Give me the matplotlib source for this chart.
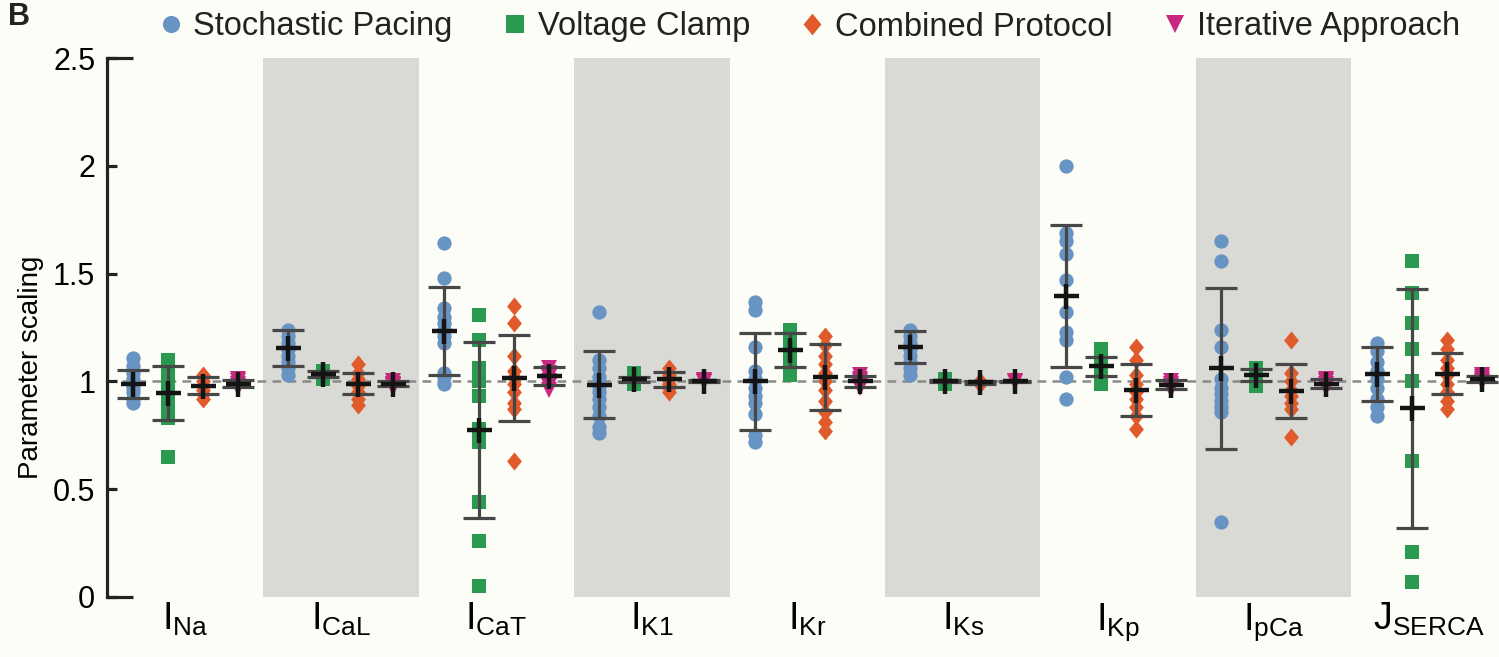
import matplotlib
matplotlib.use('Agg')
from matplotlib import pyplot as plt
from matplotlib.ticker import FixedLocator
import numpy as np

currents = ['I_{Na}', 'I_{CaL}', 'I_{CaT}', 'I_{K1}', 'I_{Kr}', 'I_{Ks}', 'I_{Kp}', 'I_{pCa}', 'J_{SERCA}']
methods = ['Stochastic Pacing', 'Voltage Clamp', 'Combined Protocol', 'Iterative Approach']

# individual trials, one list per current
sp_points = [
    [1.11, 1.07, 1.04, 1.01, 0.99, 0.97, 0.95, 0.92, 0.90],
    [1.24, 1.21, 1.18, 1.15, 1.12, 1.09, 1.06, 1.03],
    [1.64, 1.48, 1.34, 1.30, 1.27, 1.24, 1.21, 1.18, 1.04, 1.02, 0.99],
    [1.32, 1.10, 1.06, 1.02, 0.98, 0.95, 0.92, 0.88, 0.84, 0.79, 0.76],
    [1.37, 1.33, 1.16, 1.05, 1.01, 0.97, 0.93, 0.90, 0.85, 0.75, 0.72],
    [1.24, 1.21, 1.18, 1.15, 1.12, 1.09, 1.06, 1.03],
    [2.00, 1.69, 1.65, 1.59, 1.47, 1.32, 1.23, 1.19, 1.02, 0.92],
    [1.65, 1.56, 1.24, 1.16, 1.01, 0.97, 0.94, 0.91, 0.88, 0.86, 0.35],
    [1.18, 1.14, 1.09, 1.05, 1.01, 0.97, 0.92, 0.88, 0.84],
]
vc_points = [
    [1.10, 1.06, 1.02, 0.98, 0.94, 0.90, 0.86, 0.83, 0.65],
    [1.05, 1.04, 1.03, 1.02, 1.01],
    [1.31, 1.19, 1.06, 1.00, 0.93, 0.78, 0.72, 0.44, 0.26, 0.05],
    [1.04, 1.02, 1.01, 1.00, 0.99],
    [1.24, 1.21, 1.18, 1.15, 1.12, 1.08, 1.03],
    [1.01, 1.00, 0.995, 0.99],
    [1.15, 1.11, 1.08, 1.05, 1.02, 0.99],
    [1.06, 1.04, 1.02, 1.00, 0.98],
    [1.56, 1.41, 1.27, 1.15, 1.00, 0.63, 0.21, 0.07],
]
cp_points = [
    [1.03, 1.00, 0.98, 0.96, 0.94, 0.92],
    [1.08, 1.04, 1.01, 0.98, 0.95, 0.92, 0.89],
    [1.35, 1.27, 1.12, 1.05, 1.02, 0.99, 0.95, 0.90, 0.87, 0.63],
    [1.06, 1.03, 1.01, 0.99, 0.97, 0.95],
    [1.21, 1.17, 1.12, 1.08, 1.04, 1.00, 0.96, 0.91, 0.86, 0.81, 0.77],
    [1.00, 0.995, 0.99],
    [1.16, 1.10, 1.03, 0.99, 0.95, 0.92, 0.88, 0.84, 0.78],
    [1.19, 1.04, 1.00, 0.96, 0.93, 0.90, 0.87, 0.74],
    [1.19, 1.15, 1.10, 1.06, 1.03, 0.99, 0.95, 0.91, 0.87],
]
ia_points = [
    [1.01, 1.00, 0.99, 0.98, 0.97],
    [1.00, 0.99, 0.985, 0.98, 0.97],
    [1.06, 1.04, 1.02, 1.00, 0.98, 0.96],
    [1.005, 1.00, 0.995],
    [1.03, 1.01, 1.00, 0.98, 0.97],
    [1.00, 0.995],
    [1.00, 0.99, 0.98, 0.97, 0.96],
    [1.01, 1.00, 0.99, 0.98, 0.97],
    [1.03, 1.02, 1.01, 1.00, 0.995],
]

# mean and standard deviation for each current
sp_mean = [0.99, 1.155, 1.235, 0.985, 1.00, 1.16, 1.395, 1.06, 1.035]
sp_sd = [0.065, 0.085, 0.205, 0.155, 0.225, 0.075, 0.33, 0.375, 0.125]
vc_mean = [0.945, 1.035, 0.775, 1.01, 1.145, 1.00, 1.07, 1.03, 0.875]
vc_sd = [0.125, 0.015, 0.41, 0.012, 0.08, 0.005, 0.045, 0.028, 0.555]
cp_mean = [0.98, 0.99, 1.015, 1.01, 1.02, 0.995, 0.96, 0.955, 1.035]
cp_sd = [0.04, 0.05, 0.20, 0.035, 0.153, 0.006, 0.12, 0.125, 0.095]
ia_mean = [0.99, 0.99, 1.025, 1.00, 1.00, 1.00, 0.985, 0.99, 1.01]
ia_sd = [0.015, 0.012, 0.04, 0.005, 0.025, 0.004, 0.02, 0.02, 0.015]

plt.rcParams['font.family'] = ['Liberation Sans', 'DejaVu Sans']
plt.rcParams['mathtext.fontset'] = 'custom'
plt.rcParams['mathtext.rm'] = 'Liberation Sans'
plt.rcParams['mathtext.it'] = 'Liberation Sans'
plt.rcParams['text.color'] = '#222222'

# slightly tall diamond
diamond = [(0, 1), (0.82, 0), (0, -1), (-0.82, 0), (0, 1)]

bg = '#fdfdf8'
fig = plt.figure(figsize=(14.99, 6.57), dpi=100, facecolor=bg)
ax = fig.add_axes([107 / 1499, 60 / 657, 1392 / 1499, 539 / 657], facecolor=bg)

series = [
    (sp_points, sp_mean, sp_sd, 'o', '#6894c4', 10.3),
    (vc_points, vc_mean, vc_sd, 's', '#2a9a50', 10.3),
    (cp_points, cp_mean, cp_sd, diamond, '#e05a2c', 13.0),
    (ia_points, ia_mean, ia_sd, 'v', '#c8287f', 11.0),
]
offsets = np.array([-1.5, -0.5, 0.5, 1.5]) * 0.225
centers = np.arange(len(currents))

# alternate shaded columns
for c in centers[1::2]:
    ax.axvspan(c - 0.5, c + 0.5, color='#d9dad6', lw=0, zorder=0)

ax.axhline(1, color='#8a8a8a', lw=1.8, ls=(0, (3.5, 2.5)), zorder=1)

handles = []
for (pts, mean, sd, marker, color, ms), off, name in zip(series, offsets, methods):
    for c, vals in zip(centers, pts):
        ax.plot(np.full(len(vals), c + off), vals, ls='none', marker=marker, ms=ms,
                mew=0, color=color, zorder=2, clip_on=False)
    ax.errorbar(centers + off, mean, yerr=sd, fmt='none', ecolor='#474747',
                elinewidth=2.3, capsize=11.5, capthick=2.3, zorder=3)
    ax.plot(centers + off, mean, ls='none', marker='+', ms=18, mew=3.2,
            color='#141414', zorder=4)
    handles.append(plt.Line2D([], [], ls='none', marker=marker, ms=ms * 1.2, mew=0,
                              color=color, label=name))

ax.set_xlim(-0.505, 8.45)
ax.set_ylim(0, 2.5)
ax.set_xticks(centers)
ax.set_xticklabels([r'$\mathrm{%s}$' % c for c in currents], fontsize=27)
ax.set_yticks([0, 0.5, 1, 1.5, 2, 2.5])
ax.set_yticklabels(['0', '0.5', '1', '1.5', '2', '2.5'], fontsize=22)
ax.set_ylabel('Parameter scaling', fontsize=20)
ax.yaxis.set_label_coords(-0.045, 0.427)

for side in ['top', 'right', 'bottom']:
    ax.spines[side].set_visible(False)
ax.spines['left'].set_linewidth(2.3)
ax.spines['left'].set_color('#222222')
ax.tick_params(axis='x', length=0, pad=3)
ax.tick_params(axis='y', direction='in', length=7.5, width=2.3, color='#222222', pad=8.5)

# longer end caps on the y axis
ax.yaxis.remove_overlapping_locs = False
ax.yaxis.set_minor_locator(FixedLocator([0, 2.5]))
ax.tick_params(axis='y', which='minor', direction='in', length=19, width=2.3, color='#222222')

fig.legend(handles=handles, loc='center', bbox_to_anchor=(809 / 1499, 1 - 27 / 657),
           ncol=4, frameon=False, fontsize=23.5, handlelength=0.8, handletextpad=0.3,
           columnspacing=1.5, borderaxespad=0)

fig.text(8 / 1499, 1 - 2 / 657, 'B', fontsize=22, fontweight='bold', va='top', ha='left')

fig.savefig('out.png', dpi=100, facecolor=bg)
